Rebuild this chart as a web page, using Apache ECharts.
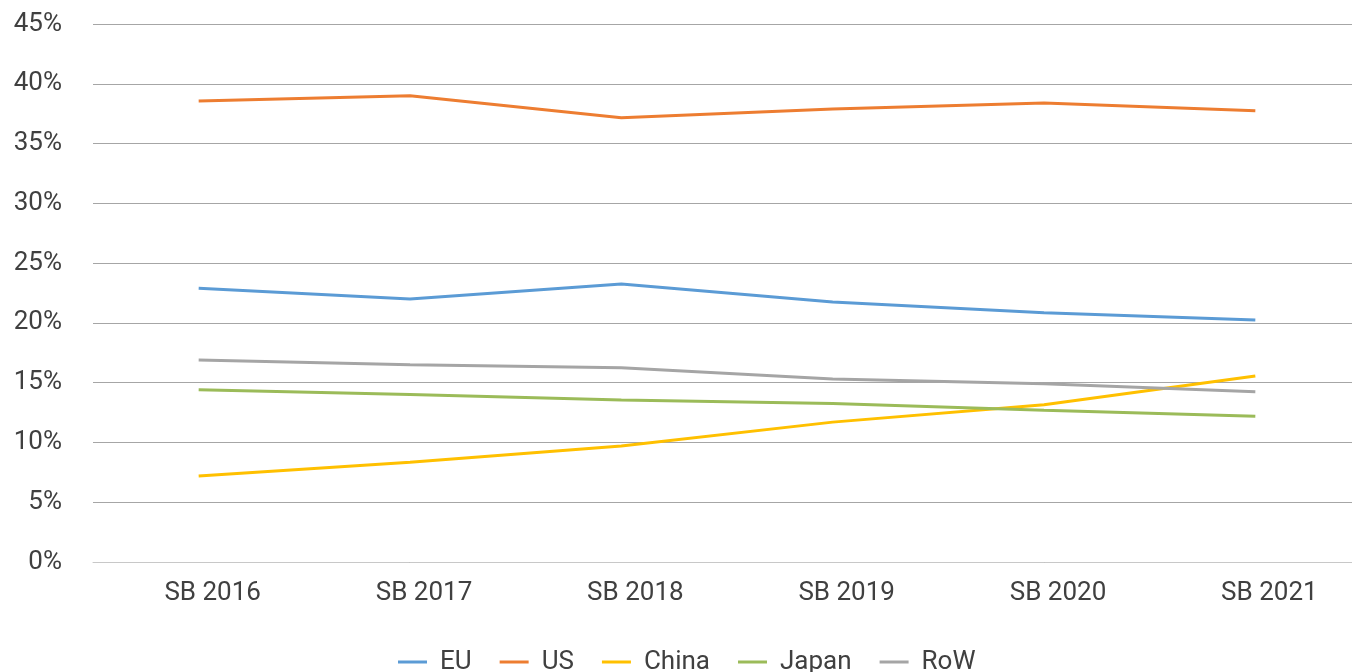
<!DOCTYPE html>
<html>
<head>
<meta charset="utf-8">
<script src="https://cdn.jsdelivr.net/npm/echarts@6/dist/echarts.min.js"></script>
<style>
  html, body { margin: 0; padding: 0; background: #fff; overflow: hidden; }
  #chart { width: 1362px; height: 672px; }
</style>
</head>
<body>
<div id="chart"></div>
<script>
// categories and shares (%)
var years = ['SB 2016', 'SB 2017', 'SB 2018', 'SB 2019', 'SB 2020', 'SB 2021'];
var eu    = [22.9, 22.0, 23.25, 21.75, 20.85, 20.25];
var us    = [38.55, 39.0, 37.15, 37.9, 38.4, 37.75];
var china = [7.2, 8.35, 9.7, 11.7, 13.15, 15.55];
var japan = [14.4, 14.0, 13.55, 13.25, 12.7, 12.2];
var row   = [16.9, 16.5, 16.25, 15.3, 14.9, 14.25];
var yTicks = [0, 5, 10, 15, 20, 25, 30, 35, 40, 45];

var font = 'Roboto';
var txtColor = '#404040';

var myChart = echarts.init(document.getElementById('chart'));

function line(name, data, color) {
    return {
        name: name,
        type: 'line',
        data: data,
        symbol: 'none',
        lineStyle: { color: color, width: 3 },
        itemStyle: { color: color }
    };
}

// chart div is a bit wider than the window: the plot runs past the right edge
var option = {
    animation: false,
    grid: { left: 93, right: 1, top: 24, bottom: 110 },
    legend: {
        bottom: -8,
        left: 393,
        itemWidth: 29,
        itemHeight: 3,
        itemGap: 28,
        icon: 'rect',
        textStyle: { fontFamily: font, fontSize: 26, color: txtColor, padding: [0, 0, 0, 8] },
        data: ['EU', 'US', 'China', 'Japan', 'RoW']
    },
    xAxis: {
        type: 'category',
        data: years,
        boundaryGap: true,
        axisLine: { lineStyle: { color: '#c8c8c8', width: 1 } },
        axisTick: { show: false },
        axisLabel: {
            fontFamily: font, fontSize: 26, color: txtColor, margin: 18,
            padding: [0, 0, 0, 28]
        }
    },
    yAxis: {
        type: 'value',
        min: yTicks[0],
        max: yTicks[yTicks.length - 1],
        interval: 5,
        axisLine: { show: false },
        axisTick: { show: false },
        splitLine: { lineStyle: { color: '#a6a6a6', width: 1 } },
        axisLabel: {
            fontFamily: font, fontSize: 26, color: txtColor, margin: 31,
            formatter: function (v) { return v + '%'; }
        }
    },
    series: [
        line('EU', eu, '#5b9bd5'),
        line('US', us, '#ed7d31'),
        line('China', china, '#ffc000'),
        line('Japan', japan, '#9bbb59'),
        line('RoW', row, '#a5a5a5')
    ]
};
myChart.setOption(option);
</script>
</body>
</html>
